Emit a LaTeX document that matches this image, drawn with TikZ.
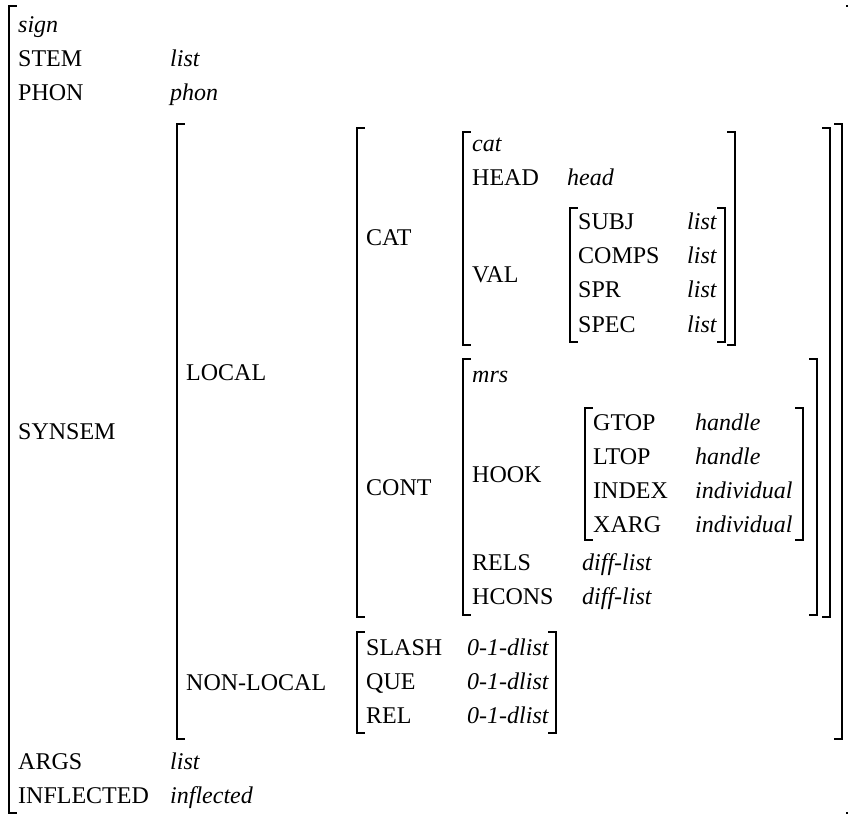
\documentclass[tikz,border=0pt]{standalone}
\usepackage{fontspec}
\setmainfont{Liberation Serif}
\tikzset{
  br/.style={line width=1.5pt, line join=miter, line cap=rect},
  attr/.style={anchor=base west, inner sep=0pt, font=\fontsize{24}{28}\selectfont},
  vlu/.style={anchor=base west, inner sep=0pt, font=\fontsize{24}{28}\selectfont\itshape},
}
\newcommand\mylb[3]{\draw[br] (#1+7,#2) -- (#1,#2) -- (#1,#3) -- (#1+7,#3);}
\newcommand\myrb[3]{\draw[br] (#1-7,#2) -- (#1,#2) -- (#1,#3) -- (#1-7,#3);}
\begin{document}
\begin{tikzpicture}[x=1pt,y=-1pt]
\useasboundingbox (0,0) rectangle (848,818);
% outer
\mylb{9}{6}{813}
\myrb{854}{6}{813}
\node[vlu] (sign) at (18,33) {sign};
\node[attr] (stem) at (18,67) {STEM};
\node[vlu] (stemv) at (170,67) {list};
\node[attr] (phon) at (18,101) {PHON};
\node[vlu] (phonv) at (170,101) {phon};
\node[attr] (synsem) at (18,439) {SYNSEM};
\node[attr] (args) at (18,769) {ARGS};
\node[vlu] (argsv) at (170,769) {list};
\node[attr] (infl) at (18,803) {INFLECTED};
\node[vlu] (inflv) at (170,803) {inflected};
% synsem value
\mylb{177}{124}{739}
\myrb{842}{124}{739}
\node[attr] (local) at (186,380) {LOCAL};
\node[attr] (nonlocal) at (186,690) {NON-LOCAL};
% local value
\mylb{357}{128}{617}
\myrb{830}{128}{617}
\node[attr] (catl) at (366,246) {CAT};
\node[attr] (cont) at (366,495) {CONT};
% cat value
\mylb{463}{132}{345}
\myrb{735}{132}{345}
\node[vlu] (cat) at (472,152) {cat};
\node[attr] (head) at (472,186) {HEAD};
\node[vlu] (headv) at (567,186) {head};
\node[attr] (val) at (472,283) {VAL};
% val value
\mylb{570}{208}{342}
\myrb{725}{208}{342}
\node[attr] (subj) at (578,230) {SUBJ};
\node[vlu] (subjv) at (687,230) {list};
\node[attr] (comps) at (578,264) {COMPS};
\node[vlu] (compsv) at (687,264) {list};
\node[attr] (spr) at (578,298) {SPR};
\node[vlu] (sprv) at (687,298) {list};
\node[attr] (spec) at (578,332) {SPEC};
\node[vlu] (specv) at (687,332) {list};
% cont value
\mylb{463}{359}{615}
\myrb{817}{359}{615}
\node[vlu] (mrs) at (472,382) {mrs};
\node[attr] (hook) at (472,482) {HOOK};
\mylb{585}{408}{540}
\myrb{803}{408}{540}
\node[attr] (gtop) at (593,430) {GTOP};
\node[vlu] (gtopv) at (695,430) {handle};
\node[attr] (ltop) at (593,464) {LTOP};
\node[vlu] (ltopv) at (695,464) {handle};
\node[attr] (index) at (593,498) {INDEX};
\node[vlu] (indexv) at (695,498) {individual};
\node[attr] (xarg) at (593,532) {XARG};
\node[vlu] (xargv) at (695,532) {individual};
\node[attr] (rels) at (472,570) {RELS};
\node[vlu] (relsv) at (582,570) {diff-list};
\node[attr] (hcons) at (472,604) {HCONS};
\node[vlu] (hconsv) at (582,604) {diff-list};
% non-local value
\mylb{357}{632}{733}
\myrb{556}{632}{733}
\node[attr] (slash) at (366,655) {SLASH};
\node[vlu] (slashv) at (467,655) {0-1-dlist};
\node[attr] (que) at (366,689) {QUE};
\node[vlu] (quev) at (467,689) {0-1-dlist};
\node[attr] (rel) at (366,723) {REL};
\node[vlu] (relv) at (467,723) {0-1-dlist};
\end{tikzpicture}
\end{document}
